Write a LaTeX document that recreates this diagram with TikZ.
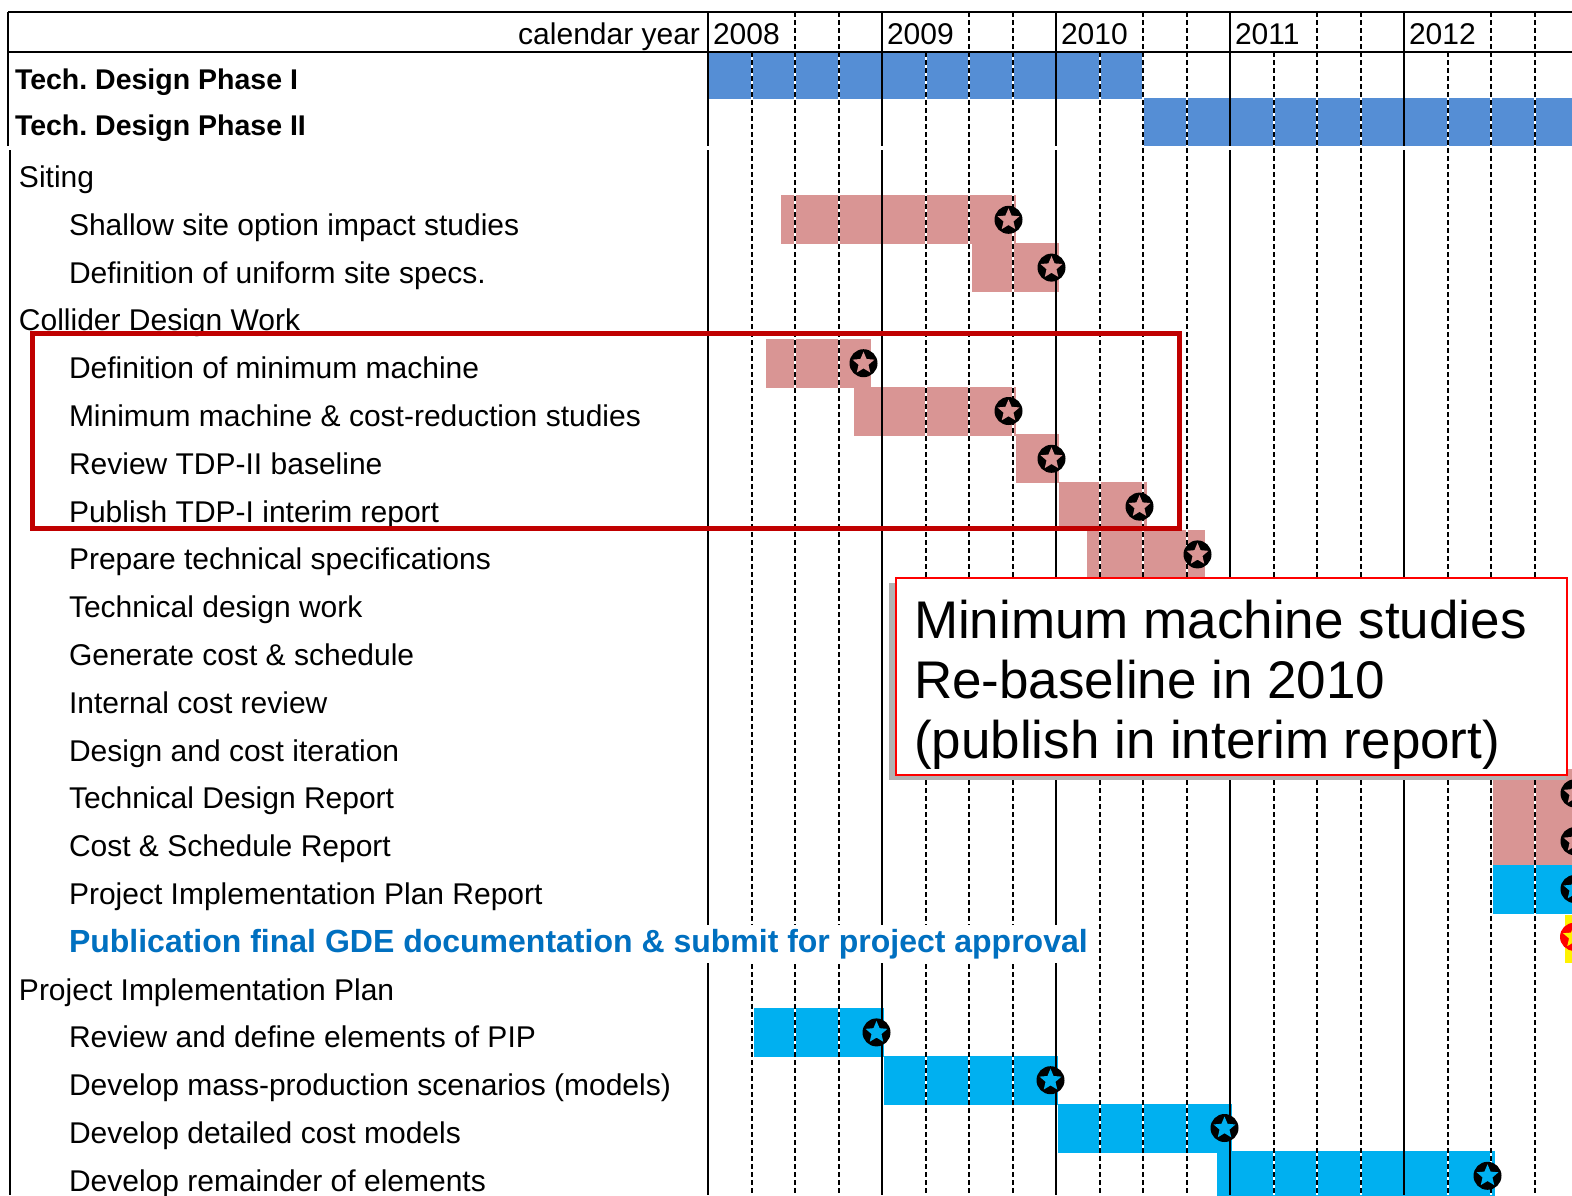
\documentclass[tikz,border=0pt]{standalone}
\usepackage{fontspec}
\setmainfont{Liberation Sans}
\usepackage{xcolor}
\usetikzlibrary{shapes.geometric}

\definecolor{phaseblue}{RGB}{85,142,213}
\definecolor{taskpink}{RGB}{217,149,148}
\definecolor{pipblue}{RGB}{0,176,240}
\definecolor{pubblue}{RGB}{0,112,192}
\definecolor{boxred}{RGB}{192,0,0}

% row / start / end / colour of the task bars (x in px, rows counted from Siting)
\newcommand{\tasklist}{1/781/1016/taskpink, 2/972/1059/taskpink, 4/766/871/taskpink,
  5/854/1016/taskpink, 6/1016/1059/taskpink, 7/1059/1147/taskpink, 8/1087/1205/taskpink,
  13/1493/1582/taskpink, 14/1493/1582/taskpink, 15/1493/1582/pipblue,
  18/754/884/pipblue, 19/884/1058/pipblue, 20/1058/1232/pipblue, 21/1217/1495/pipblue}

\begin{document}
\frenchspacing
\begin{tikzpicture}[x=1pt,y=-1pt,line width=2pt]
  \tikzstyle{lbl}=[inner sep=0pt,anchor=base west,font=\fontsize{30}{36}\selectfont]
  \tikzstyle{bold lbl}=[lbl,font=\fontsize{28.5}{34}\selectfont\bfseries]
  \tikzstyle{quarter}=[dash pattern=on 5pt off 3pt]
  \tikzstyle{ring}=[circle,fill=black,minimum size=28pt,inner sep=0pt]
  \tikzstyle{starmark}=[star,star points=5,star point ratio=2.2,minimum size=23pt,inner sep=0pt]

  \useasboundingbox (0,0) rectangle (1572,1195);
  \clip (0,0) rectangle (1572,1195);
  \fill[white] (0,0) rectangle (1572,1195);

  % phase bars
  \fill[phaseblue] (708,53) rectangle (1143,99);
  \fill[phaseblue] (1143,98) rectangle (1580,146);

  % task bars
  \foreach \r/\s/\e/\c in \tasklist
    \fill[\c] (\s,{172+47.8*\r-24.5}) rectangle (\e,{172+47.8*\r+24.5});
  \fill[yellow] (1565,915) rectangle (1590,963);

  % grid
  \foreach \yr in {0,...,4} {
    \draw (708+174*\yr,12) -- (708+174*\yr,146);
    \draw (708+174*\yr,150) -- (708+174*\yr,1195);
    \foreach \q in {1,2,3} {
      \draw[white] (708+174*\yr+43.5*\q,52) -- (708+174*\yr+43.5*\q,1195);
      \draw[quarter] (708+174*\yr+43.5*\q,52) -- (708+174*\yr+43.5*\q,1195);
    }
    \foreach \q in {2,3}
      \draw[quarter] (708+174*\yr+43.5*\q,12) -- (708+174*\yr+43.5*\q,52);
  }
  \draw (8,12) -- (1572,12);
  \draw (8,52) -- (1572,52);
  \draw (8,12) -- (8,146);
  \draw (10,150) -- (10,1195);

  % milestones
  \foreach \r/\s/\e/\c in \tasklist {
    \node[ring] (m\r) at (\e-7.5,{172+47.8*\r}) {};
    \node[starmark,fill=\c] (s\r) at (m\r) {};
  }
  \node[ring,fill=red] (m16) at (1574,{172+47.8*16}) {};
  \node[starmark,fill=yellow] (s16) at (m16) {};

  % header
  \node[lbl,anchor=base east] (cal) at (701,44) {calendar year};
  \foreach \yr in {0,...,4}
    \node[lbl] (y\yr) at (712+174*\yr,44) {\the\numexpr2008+\yr\relax};

  % labels
  \node[bold lbl] (ph1) at (14,89) {Tech. Design Phase I};
  \node[bold lbl] (ph2) at (14,135) {Tech. Design Phase II};
  \foreach \r/\x/\t in {0/18/Siting, 1/68/Shallow site option impact studies,
      2/68/Definition of uniform site specs., 3/18/Collider Design Work,
      4/68/Definition of minimum machine, 5/68/Minimum machine \& cost-reduction studies,
      6/68/Review TDP-II baseline, 7/68/Publish TDP-I interim report,
      8/68/Prepare technical specifications, 9/68/Technical design work,
      10/68/Generate cost \& schedule, 11/68/Internal cost review,
      12/68/Design and cost iteration, 13/68/Technical Design Report,
      14/68/Cost \& Schedule Report, 15/68/Project Implementation Plan Report,
      17/18/Project Implementation Plan, 18/68/Review and define elements of PIP,
      19/68/Develop mass-production scenarios (models),
      20/68/Develop detailed cost models, 21/68/Develop remainder of elements}
    \node[lbl] (l\r) at (\x,{172+47.8*\r+15.5}) {\t};
  \node[lbl,font=\fontsize{32}{38}\selectfont\bfseries,text=pubblue,fill=white,
    inner xsep=2pt,inner ysep=4pt] (l16)
    at (66,{172+47.8*16+15.5}) {Publication final GDE documentation \& submit for project approval};

  % highlight and callout
  \draw[boxred,line width=5pt] (32,333) rectangle (1179,528);
  \fill[gray!60] (889,583) rectangle (1566,780);
  \node[draw=red,fill=white,anchor=north west,minimum width=671pt,minimum height=197pt,
    inner sep=0pt] (callout) at (895,577) {};
  \node[anchor=north west,inner sep=0pt,align=left,font=\fontsize{53}{60}\selectfont]
    (note) at (913,599) {Minimum machine studies\\Re-baseline in 2010\\(publish in interim report)};
\end{tikzpicture}
\end{document}
